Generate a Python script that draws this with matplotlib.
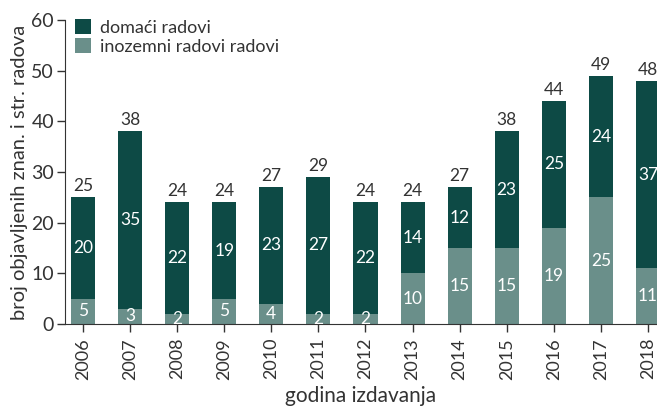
import matplotlib
matplotlib.use("Agg")
import matplotlib.pyplot as plt
import numpy as np

# Data
years = ["2006", "2007", "2008", "2009", "2010", "2011", "2012",
         "2013", "2014", "2015", "2016", "2017", "2018"]
inozemni = [5, 3, 2, 5, 4, 2, 2, 10, 15, 15, 19, 25, 11]
domaci = [20, 35, 22, 19, 23, 27, 22, 14, 12, 23, 25, 24, 37]
ukupno = [25, 38, 24, 24, 27, 29, 24, 24, 27, 38, 44, 49, 48]

dark = "#0d4a45"
light = "#6a8f8a"
txt = "#333333"

plt.rcParams['font.family'] = ['Lato', 'DejaVu Sans']

fig = plt.figure(figsize=(6.57, 4.11), dpi=100)
ax = fig.add_axes([0.099, 0.2117, 0.901, 0.7397])

x = np.arange(len(years))
w = 0.51
ax.bar(x, domaci, w, bottom=inozemni, color=dark, label="domaći radovi")
ax.bar(x, inozemni, w, color=light, label="inozemni radovi radovi")

for i in range(len(x)):
    ax.text(x[i], inozemni[i] / 2, str(inozemni[i]), ha="center", va="center",
            color="white", fontsize=12.5)
    ax.text(x[i], inozemni[i] + domaci[i] / 2, str(domaci[i]), ha="center",
            va="center", color="white", fontsize=12.5)
    ax.text(x[i], inozemni[i] + domaci[i] + 0.6, str(ukupno[i]), ha="center",
            va="bottom", color=txt, fontsize=12.5)

ax.set_xlim(-0.38, 12.19)
ax.set_ylim(0, 60)
ax.set_yticks(range(0, 61, 10))
ax.set_xticks(x)
ax.set_xticklabels(years, rotation=90, fontsize=13, color=txt)
ax.tick_params(axis="y", labelsize=14, colors=txt, length=6, width=1, direction="out", pad=2)
ax.tick_params(axis="x", colors=txt, length=6, width=1, direction="out", pad=4)
for s in ["top", "right"]:
    ax.spines[s].set_visible(False)
for s in ["left", "bottom"]:
    ax.spines[s].set_color(txt)

ax.set_ylabel("broj objavljenih znan. i str. radova", fontsize=14.5, color=txt, labelpad=2)
ax.set_xlabel("godina izdavanja", fontsize=15, color=txt, labelpad=5)

leg = ax.legend(loc="upper left", bbox_to_anchor=(-0.005, 1.045), frameon=False,
                fontsize=13, handlelength=0.9, handleheight=0.9,
                handletextpad=0.5, labelspacing=0.15, borderaxespad=0.3)
for t in leg.get_texts():
    t.set_color(txt)

fig.savefig("out.png", dpi=100)
